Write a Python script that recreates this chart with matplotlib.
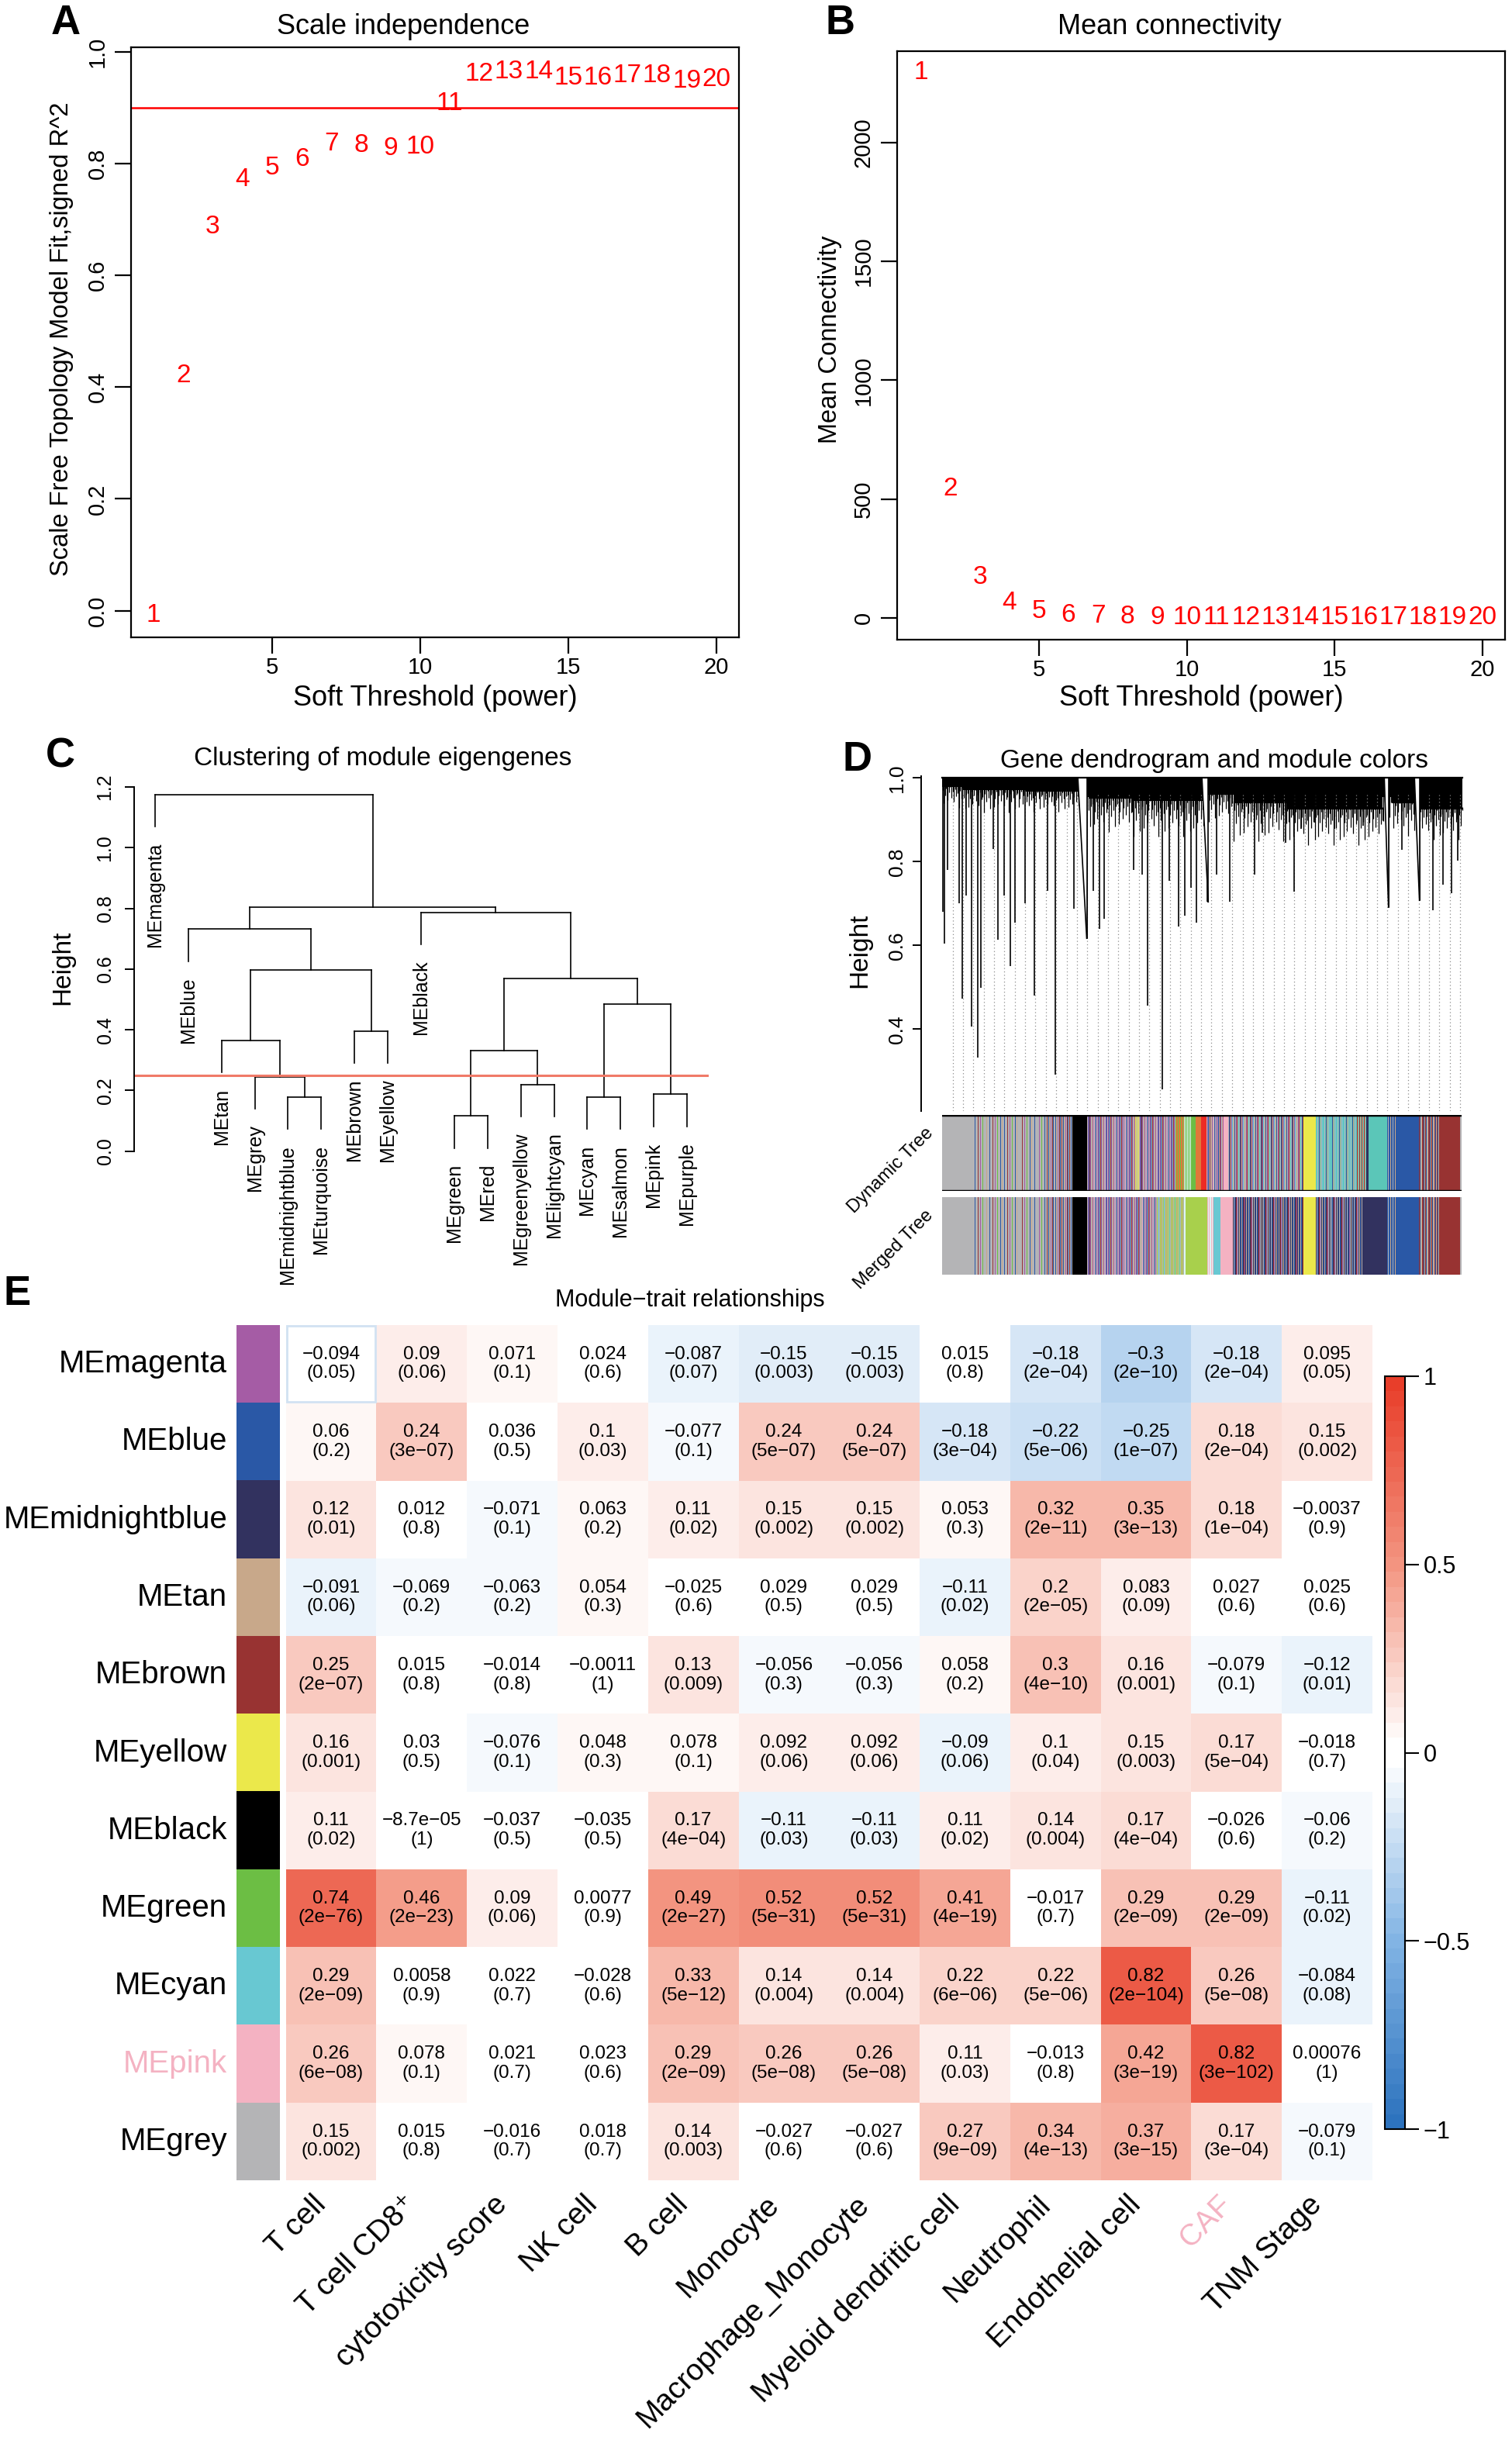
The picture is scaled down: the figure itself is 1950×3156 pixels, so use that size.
import numpy as np
import matplotlib
matplotlib.use('Agg')
import matplotlib.pyplot as plt
from matplotlib.colors import LinearSegmentedColormap, ListedColormap, Normalize, to_rgb
from matplotlib.patches import Rectangle, Polygon

plt.rcParams['font.family'] = ['Liberation Sans', 'DejaVu Sans']

W, H = 1950, 3156

# ---------------- data ----------------
# A / B: soft threshold selection
powers = list(range(1, 21))
sft_r2 = [-0.008, 0.42, 0.687, 0.771, 0.792, 0.808, 0.836, 0.832, 0.827, 0.830,
          0.907, 0.960, 0.965, 0.965, 0.954, 0.954, 0.957, 0.957, 0.948, 0.950]
mean_k = [2293, 542, 172, 64, 29, 13, 7, 4, 2.6, 1.8,
          1.3, 1.0, 0.8, 0.6, 0.5, 0.4, 0.35, 0.3, 0.26, 0.23]

# C: eigengene clustering (leaf order, merges as (a, b, height); ids >= 17 are clusters)
me_leaves = ['MEmagenta', 'MEblue', 'MEtan', 'MEgrey', 'MEmidnightblue', 'MEturquoise',
             'MEbrown', 'MEyellow', 'MEblack', 'MEgreen', 'MEred', 'MEgreenyellow',
             'MElightcyan', 'MEcyan', 'MEsalmon', 'MEpink', 'MEpurple']
me_merges = [(9, 10, 0.116), (4, 5, 0.178), (13, 14, 0.178), (15, 16, 0.187),
             (11, 12, 0.220), (3, 18, 0.245), (17, 21, 0.330), (2, 22, 0.365),
             (6, 7, 0.395), (19, 20, 0.485), (23, 26, 0.568), (24, 25, 0.597),
             (1, 28, 0.732), (8, 27, 0.787), (29, 30, 0.803), (0, 31, 1.175)]
merge_cut = 0.25

# D: gene dendrogram (read approximately), x as fraction of leaf range
d_band_edges = [0.0, 0.041, 0.161, 0.272, 0.281, 0.365, 0.504, 0.56, 0.662, 0.847, 0.865, 0.912, 1.0]
d_band_low = [0.978, 0.972, 0.968, 0.955, 0.95, 0.945, 0.96, 0.94, 0.925, 0.955, 0.94, 0.925]
d_fringe_low = [0.94, 0.93, 0.93, 0.90, 0.89, 0.88, 0.91, 0.87, 0.86, 0.91, 0.88, 0.87]
d_fringe_pattern = [0.2, 1.0, 0.5, 0.1, 0.8, 0.35, 0.0, 0.65, 0.3, 0.9, 0.15, 0.55,
                    0.4, 1.3, 0.25, 0.7, 0.05, 0.45, 1.1, 0.3]
d_spike_x = [0.002, 0.004, 0.011, 0.033, 0.039, 0.046, 0.057, 0.068, 0.074, 0.099,
             0.108, 0.120, 0.131, 0.140, 0.159, 0.178, 0.202, 0.217, 0.253, 0.278,
             0.291, 0.302, 0.311, 0.368, 0.384, 0.395, 0.424, 0.437, 0.454, 0.466,
             0.479, 0.489, 0.510, 0.527, 0.553, 0.601, 0.615, 0.660, 0.676, 0.690,
             0.717, 0.754, 0.810, 0.858, 0.884, 0.918, 0.943, 0.963, 0.979, 0.991]
d_spike_low = [0.68, 0.605, 0.78, 0.70, 0.473, 0.72, 0.407, 0.333, 0.498, 0.83,
               0.613, 0.72, 0.551, 0.655, 0.70, 0.481, 0.73, 0.291, 0.688, 0.617,
               0.73, 0.64, 0.663, 0.78, 0.77, 0.456, 0.257, 0.754, 0.646, 0.671,
               0.737, 0.655, 0.704, 0.77, 0.704, 0.77, 0.87, 0.845, 0.729, 0.878,
               0.894, 0.878, 0.886, 0.692, 0.828, 0.708, 0.684, 0.746, 0.725, 0.803]
d_wedges = [(0.261, 0.278, 0.617), (0.4995, 0.5116, 0.704),
            (0.850, 0.858, 0.692), (0.908, 0.9175, 0.708)]

mod_colors = {'grey': '#B4B4B6', 'blue': '#2A58A6', 'brown': '#983332', 'black': '#000000',
              'yellow': '#EBE84B', 'green': '#6CBE44', 'red': '#EE2B24', 'pink': '#F4B2C2',
              'magenta': '#A55CA5', 'purple': '#8E5AA8', 'turquoise': '#5BC6B8',
              'greenyellow': '#A8D04C', 'tan': '#C8A88A', 'salmon': '#E0783A',
              'cyan': '#68C8D2', 'lightcyan': '#DDF4F4', 'midnightblue': '#32325F'}

mix_grey = ['grey', 'grey', 'grey', 'blue', 'grey', 'grey', 'grey', 'brown', 'grey', 'grey',
            'magenta', 'grey', 'grey', 'green', 'grey', 'grey', 'grey', 'blue', 'grey', 'tan']
mix_grey2 = ['grey', 'brown', 'grey', 'blue', 'tan', 'grey', 'magenta', 'grey', 'brown', 'blue']
mix_purple = ['grey', 'magenta', 'blue', 'grey', 'brown', 'purple', 'grey', 'tan', 'magenta',
              'grey', 'pink', 'blue', 'grey', 'purple']
mix_mid = ['grey', 'blue', 'brown', 'grey', 'purple', 'cyan', 'grey', 'tan', 'blue', 'grey',
           'magenta', 'brown', 'grey', 'turquoise']
mix_turq = ['turquoise', 'cyan', 'grey', 'turquoise', 'blue', 'tan', 'turquoise', 'grey', 'cyan']
mix_blue = ['blue', 'grey', 'blue', 'blue', 'tan', 'blue']
mix_brown = ['brown', 'blue', 'tan', 'grey', 'brown', 'brown', 'blue', 'tan']
mix_gy = ['greenyellow', 'grey', 'greenyellow', 'cyan', 'grey', 'greenyellow', 'tan']
mix_midnight = ['midnightblue', 'grey', 'blue', 'midnightblue', 'brown', 'purple', 'grey',
                'midnightblue', 'tan', 'blue']

dyn_segments = [(0.000, 0.058, ['grey']), (0.058, 0.200, mix_grey), (0.200, 0.251, mix_grey2),
                (0.251, 0.278, ['black']), (0.278, 0.371, mix_purple), (0.371, 0.378, ['yellow', 'grey']),
                (0.378, 0.448, mix_purple), (0.448, 0.465, ['salmon', 'green', 'salmon']),
                (0.465, 0.478, ['lightcyan', 'green']), (0.478, 0.488, ['green']),
                (0.488, 0.499, ['salmon']), (0.499, 0.509, ['red']), (0.509, 0.542, mix_purple),
                (0.542, 0.552, ['pink']), (0.552, 0.696, mix_mid), (0.696, 0.720, ['yellow']),
                (0.720, 0.799, mix_turq), (0.799, 0.816, ['brown', 'tan', 'turquoise']),
                (0.816, 0.821, ['midnightblue']), (0.821, 0.857, ['turquoise']),
                (0.857, 0.876, mix_blue), (0.876, 0.919, ['blue']), (0.919, 0.957, mix_brown),
                (0.957, 0.997, ['brown']), (0.997, 1.000, ['grey'])]
merged_segments = [(0.000, 0.058, ['grey']), (0.058, 0.200, mix_grey), (0.200, 0.251, mix_grey2),
                   (0.251, 0.278, ['black']), (0.278, 0.371, mix_purple), (0.371, 0.413, mix_purple),
                   (0.413, 0.465, mix_gy), (0.465, 0.468, ['lightcyan']), (0.468, 0.510, ['greenyellow']),
                   (0.510, 0.523, ['pink', 'lightcyan']), (0.523, 0.536, ['cyan']),
                   (0.536, 0.560, ['pink']), (0.560, 0.696, mix_midnight), (0.696, 0.720, ['yellow']),
                   (0.720, 0.808, mix_midnight), (0.808, 0.857, ['midnightblue']),
                   (0.857, 0.876, mix_blue), (0.876, 0.919, ['blue']), (0.919, 0.957, mix_brown),
                   (0.957, 0.997, ['brown']), (0.997, 1.000, ['grey'])]

# E: module-trait relationships
hm_modules = ['magenta', 'blue', 'midnightblue', 'tan', 'brown', 'yellow', 'black',
              'green', 'cyan', 'pink', 'grey']
hm_traits = ['T cell', 'T cell CD8⁺', 'cytotoxicity score', 'NK cell', 'B cell', 'Monocyte',
             'Macrophage_Monocyte', 'Myeloid dendritic cell', 'Neutrophil', 'Endothelial cell',
             'CAF', 'TNM Stage']
hm_cor = [
    [-0.094, 0.09, 0.071, 0.024, -0.087, -0.15, -0.15, 0.015, -0.18, -0.3, -0.18, 0.095],
    [0.06, 0.24, 0.036, 0.1, -0.077, 0.24, 0.24, -0.18, -0.22, -0.25, 0.18, 0.15],
    [0.12, 0.012, -0.071, 0.063, 0.11, 0.15, 0.15, 0.053, 0.32, 0.35, 0.18, -0.0037],
    [-0.091, -0.069, -0.063, 0.054, -0.025, 0.029, 0.029, -0.11, 0.2, 0.083, 0.027, 0.025],
    [0.25, 0.015, -0.014, -0.0011, 0.13, -0.056, -0.056, 0.058, 0.3, 0.16, -0.079, -0.12],
    [0.16, 0.03, -0.076, 0.048, 0.078, 0.092, 0.092, -0.09, 0.1, 0.15, 0.17, -0.018],
    [0.11, -8.7e-05, -0.037, -0.035, 0.17, -0.11, -0.11, 0.11, 0.14, 0.17, -0.026, -0.06],
    [0.74, 0.46, 0.09, 0.0077, 0.49, 0.52, 0.52, 0.41, -0.017, 0.29, 0.29, -0.11],
    [0.29, 0.0058, 0.022, -0.028, 0.33, 0.14, 0.14, 0.22, 0.22, 0.82, 0.26, -0.084],
    [0.26, 0.078, 0.021, 0.023, 0.29, 0.26, 0.26, 0.11, -0.013, 0.42, 0.82, 0.00076],
    [0.15, 0.015, -0.016, 0.018, 0.14, -0.027, -0.027, 0.27, 0.34, 0.37, 0.17, -0.079],
]
hm_p = [
    ['0.05', '0.06', '0.1', '0.6', '0.07', '0.003', '0.003', '0.8', '2e-04', '2e-10', '2e-04', '0.05'],
    ['0.2', '3e-07', '0.5', '0.03', '0.1', '5e-07', '5e-07', '3e-04', '5e-06', '1e-07', '2e-04', '0.002'],
    ['0.01', '0.8', '0.1', '0.2', '0.02', '0.002', '0.002', '0.3', '2e-11', '3e-13', '1e-04', '0.9'],
    ['0.06', '0.2', '0.2', '0.3', '0.6', '0.5', '0.5', '0.02', '2e-05', '0.09', '0.6', '0.6'],
    ['2e-07', '0.8', '0.8', '1', '0.009', '0.3', '0.3', '0.2', '4e-10', '0.001', '0.1', '0.01'],
    ['0.001', '0.5', '0.1', '0.3', '0.1', '0.06', '0.06', '0.06', '0.04', '0.003', '5e-04', '0.7'],
    ['0.02', '1', '0.5', '0.5', '4e-04', '0.03', '0.03', '0.02', '0.004', '4e-04', '0.6', '0.2'],
    ['2e-76', '2e-23', '0.06', '0.9', '2e-27', '5e-31', '5e-31', '4e-19', '0.7', '2e-09', '2e-09', '0.02'],
    ['2e-09', '0.9', '0.7', '0.6', '5e-12', '0.004', '0.004', '6e-06', '5e-06', '2e-104', '5e-08', '0.08'],
    ['6e-08', '0.1', '0.7', '0.6', '2e-09', '5e-08', '5e-08', '0.03', '0.8', '3e-19', '3e-102', '1'],
    ['0.002', '0.8', '0.7', '0.7', '0.003', '0.6', '0.6', '9e-09', '4e-13', '3e-15', '3e-04', '0.1'],
]
highlight_module = 'pink'
highlight_trait = 'CAF'

# ---------------- helpers ----------------
fig = plt.figure(figsize=(W / 100, H / 100), dpi=100)


def px_box(x0, y0, x1, y1):
    return [x0 / W, 1 - y1 / H, (x1 - x0) / W, (y1 - y0) / H]


def ftext(x, y, s, **kw):
    return fig.text(x / W, 1 - y / H, s, **kw)


def rminus(s):
    return s.replace('-', '\u2212')


# ---------------- A: scale independence ----------------
axa = fig.add_axes(px_box(169, 61, 953, 822))
for p, r in zip(powers, sft_r2):
    axa.text(p, r, str(p), color='red', fontsize=24, ha='center', va='center')
axa.axhline(0.9, color='red', lw=1.8)
axa.set_xlim(0.24, 20.76)
axa.set_ylim(-0.0477, 1.0082)
axa.set_xticks([5, 10, 15, 20])
axa.set_yticks([0, 0.2, 0.4, 0.6, 0.8, 1.0])
axa.set_yticklabels(['0.0', '0.2', '0.4', '0.6', '0.8', '1.0'], rotation=90, va='center')
axa.tick_params(length=15, width=1.6, labelsize=21)
axa.tick_params(axis='x', pad=3)
axa.tick_params(axis='y', pad=6)
for s in axa.spines.values():
    s.set_linewidth(1.6)
ftext(520, 34, 'Scale independence', fontsize=26, ha='center', va='center')
ftext(561, 901, 'Soft Threshold (power)', fontsize=26, ha='center', va='center')
ftext(80, 437, 'Scale Free Topology Model Fit,signed R^2', fontsize=23.5, rotation=90,
      ha='center', va='center')
ftext(85, 30, 'A', fontsize=38, fontweight='bold', ha='center', va='center')

# ---------------- B: mean connectivity ----------------
axb = fig.add_axes(px_box(1157, 66, 1941, 825))
for p, k in zip(powers, mean_k):
    axb.text(p, k, str(p), color='red', fontsize=24, ha='center', va='center')
axb.set_xlim(0.2, 20.77)
axb.set_ylim(-91.3, 2384)
axb.set_xticks([5, 10, 15, 20])
axb.set_yticks([0, 500, 1000, 1500, 2000])
axb.set_yticklabels(['0', '500', '1000', '1500', '2000'], rotation=90, va='center')
axb.tick_params(length=15, width=1.6, labelsize=21)
axb.tick_params(axis='x', pad=3)
axb.tick_params(axis='y', pad=6)
for s in axb.spines.values():
    s.set_linewidth(1.6)
ftext(1508, 34, 'Mean connectivity', fontsize=26, ha='center', va='center')
ftext(1549, 901, 'Soft Threshold (power)', fontsize=26, ha='center', va='center')
ftext(1070, 438, 'Mean Connectivity', fontsize=23.5, rotation=90, ha='center', va='center')
ftext(1084, 30, 'B', fontsize=38, fontweight='bold', ha='center', va='center')

# ---------------- C: clustering of module eigengenes ----------------
axc = fig.add_axes(px_box(172.5, 1005, 913.5, 1505))
axc.set_xlim(0.36, 17.64)
axc.set_ylim(-0.052, 1.2255)
n_leaf = len(me_leaves)
xpos = {i: i + 1 for i in range(n_leaf)}
hgt = {}
heights = [m[2] for m in me_merges]
hang = 0.1 * (max(heights) - min(heights))
for k, (a, b, h) in enumerate(me_merges):
    node = n_leaf + k
    for child in (a, b):
        if child < n_leaf:
            y0 = h - hang
            axc.text(xpos[child], y0 - 0.052, me_leaves[child], rotation=90, ha='center',
                     va='top', fontsize=18, clip_on=False)
        else:
            y0 = hgt[child]
        axc.plot([xpos[child], xpos[child]], [y0, h], color='black', lw=1.2)
    axc.plot([xpos[a], xpos[b]], [h, h], color='black', lw=1.2)
    xpos[node] = (xpos[a] + xpos[b]) / 2
    hgt[node] = h
axc.axhline(merge_cut, color='#F07A68', lw=2.2)
for side in ('top', 'right', 'bottom'):
    axc.spines[side].set_visible(False)
axc.spines['left'].set_bounds(0, 1.2)
axc.spines['left'].set_linewidth(1.4)
axc.set_xticks([])
axc.set_yticks([0, 0.2, 0.4, 0.6, 0.8, 1.0, 1.2])
axc.set_yticklabels(['0.0', '0.2', '0.4', '0.6', '0.8', '1.0', '1.2'], rotation=90, va='center')
axc.tick_params(axis='y', length=9, width=1.4, labelsize=18, pad=9)
ftext(494, 978, 'Clustering of module eigengenes', fontsize=24, ha='center', va='center')
ftext(81, 1248, 'Height', fontsize=24, rotation=90, ha='center', va='center')
ftext(78, 976, 'C', fontsize=38, fontweight='bold', ha='center', va='center')

# ---------------- D: gene dendrogram and module colors ----------------
axd = fig.add_axes(px_box(1188, 1000.7, 1890, 1433))
axd.set_xlim(-0.0402, 1.006)
axd.set_ylim(0.2044, 1.005)
for gx in np.arange(0.0204, 1.0, 0.0199):
    axd.plot([gx, gx], [0.2044, 0.96], color='#8C8C8C', lw=0.9, ls=(0, (1, 2.5)))
axd.fill_between(d_band_edges, 1.0, d_band_low + [d_band_low[-1]], step='post',
                 color='black', lw=0)
# ragged fringe under the dense top band
fr_x = np.arange(0.001, 1.0, 0.0024)
seg = np.clip(np.searchsorted(d_band_edges, fr_x, side='right') - 1, 0, len(d_band_low) - 1)
fr_top = np.array(d_band_low)[seg]
fr_depth = (np.array(d_band_low) - np.array(d_fringe_low))[seg]
fr_scale = np.array([d_fringe_pattern[i % len(d_fringe_pattern)] for i in range(len(fr_x))])
axd.vlines(fr_x, fr_top - fr_depth * fr_scale, fr_top + 0.005, color='black', lw=0.9)
axd.vlines(d_spike_x, d_spike_low, 0.99, color='black', lw=1.2)
for xl, xr, hl in d_wedges:
    axd.add_patch(Polygon([(xl, 0.998), (xr, 0.998), (xr, hl)], closed=True,
                          facecolor='white', edgecolor='none', zorder=3))
    axd.plot([xl, xr], [1.0, hl], color='black', lw=1.2, zorder=4)
    axd.plot([xr, xr], [hl, 1.0], color='black', lw=1.2, zorder=4)
axd.plot([0, 1], [1.0, 1.0], color='black', lw=1.6, zorder=4)
for side in ('top', 'right', 'bottom'):
    axd.spines[side].set_visible(False)
axd.spines['left'].set_linewidth(1.4)
axd.set_xticks([])
axd.set_yticks([0.4, 0.6, 0.8, 1.0])
axd.set_yticklabels(['0.4', '0.6', '0.8', '1.0'], rotation=90, va='center')
axd.tick_params(axis='y', length=8, width=1.4, labelsize=19, pad=6)
ftext(1566, 981, 'Gene dendrogram and module colors', fontsize=24, ha='center', va='center')
ftext(1109, 1226, 'Height', fontsize=24, rotation=90, ha='center', va='center')
ftext(1106, 980, 'D', fontsize=38, fontweight='bold', ha='center', va='center')


def bar_image(segments, n=700):
    img = np.ones((1, n, 3))
    for s, e, pattern in segments:
        i0, i1 = int(round(s * n)), int(round(e * n))
        for i in range(i0, i1):
            img[0, i] = to_rgb(mod_colors[pattern[(i - i0) % len(pattern)]])
    return img


bar_rows = [('Dynamic Tree', dyn_segments, 1438, 1536), ('Merged Tree', merged_segments, 1544, 1644)]
for name, segs, y0, y1 in bar_rows:
    axbar = fig.add_axes(px_box(1215, y0, 1885, y1))
    axbar.imshow(bar_image(segs), aspect='auto', extent=(0, 1, 0, 1), interpolation='nearest')
    axbar.set_xlim(0, 1)
    axbar.set_ylim(0, 1)
    axbar.set_xticks([])
    axbar.set_yticks([])
    for s in axbar.spines.values():
        s.set_visible(False)
    if name == 'Dynamic Tree':
        axbar.axhline(1, color='black', lw=2.5)
        axbar.axhline(0, color='black', lw=2.5)
    ftext(1200, y0 + 20, name, fontsize=17, rotation=45, rotation_mode='anchor',
          ha='right', va='center')

# ---------------- E: module-trait heatmap ----------------
neg = LinearSegmentedColormap.from_list('neg', [(45 / 255, 115 / 255, 190 / 255),
                                                (130 / 255, 180 / 255, 228 / 255), (1, 1, 1)])
pos = LinearSegmentedColormap.from_list('pos', [(1, 1, 1), (243 / 255, 148 / 255, 128 / 255),
                                                (232 / 255, 62 / 255, 42 / 255)])
hm_cmap = ListedColormap([neg(i / 24) for i in range(25)] + [pos(i / 24) for i in range(25)])
norm = Normalize(-1, 1)

hx0, hx1, hy0, hy1 = 368.6, 1770, 1709, 2812
n_r, n_c = len(hm_modules), len(hm_traits)
cell_w = (hx1 - hx0) / n_c
cell_h = (hy1 - hy0) / n_r

axh = fig.add_axes(px_box(hx0, hy0, hx1, hy1))
axh.pcolormesh(np.array(hm_cor), cmap=hm_cmap, norm=norm)
axh.set_xlim(0, n_c)
axh.set_ylim(n_r, 0)
axh.axis('off')
# first cell is drawn white with a faint outline in the original
axh.add_patch(Rectangle((0.01, 0.01), 0.98, 0.98, facecolor='white', edgecolor='#D2E2F2', lw=2))
for i in range(n_r):
    for j in range(n_c):
        lab = rminus('{:.2g}'.format(hm_cor[i][j])) + '\n(' + rminus(hm_p[i][j]) + ')'
        axh.text(j + 0.5, i + 0.5, lab, ha='center', va='center', fontsize=17.5,
                 linespacing=1.15)

axm = fig.add_axes(px_box(305, hy0, 361, hy1))
axm.imshow(np.array([[to_rgb(mod_colors[m])] for m in hm_modules]), aspect='auto',
           extent=(0, 1, n_r, 0), interpolation='nearest')
axm.set_xlim(0, 1)
axm.set_ylim(n_r, 0)
axm.axis('off')

for i, m in enumerate(hm_modules):
    ftext(293, hy0 + (i + 0.5) * cell_h, 'ME' + m, fontsize=29, ha='right', va='center',
          color=mod_colors[m] if m == highlight_module else 'black')
for j, t in enumerate(hm_traits):
    ftext(hx0 + (j + 0.5) * cell_w - 12, hy1 + 26, t, fontsize=28, rotation=45,
          rotation_mode='anchor', ha='right', va='center',
          color=mod_colors[highlight_module] if t == highlight_trait else 'black')

cax = fig.add_axes(px_box(1786, 1775, 1812, 2746))
sm = plt.cm.ScalarMappable(norm=norm, cmap=hm_cmap)
cb = fig.colorbar(sm, cax=cax, ticks=[-1, -0.5, 0, 0.5, 1])
cb.ax.set_yticklabels(['\u22121', '\u22120.5', '0', '0.5', '1'])
cb.ax.tick_params(length=13, width=1.5, labelsize=22, pad=4)
cb.outline.set_linewidth(1.5)

ftext(890, 1677, 'Module\u2212trait relationships', fontsize=22, ha='center', va='center')
ftext(22, 1669, 'E', fontsize=38, fontweight='bold', ha='center', va='center')

fig.savefig('out.png', dpi=100)
